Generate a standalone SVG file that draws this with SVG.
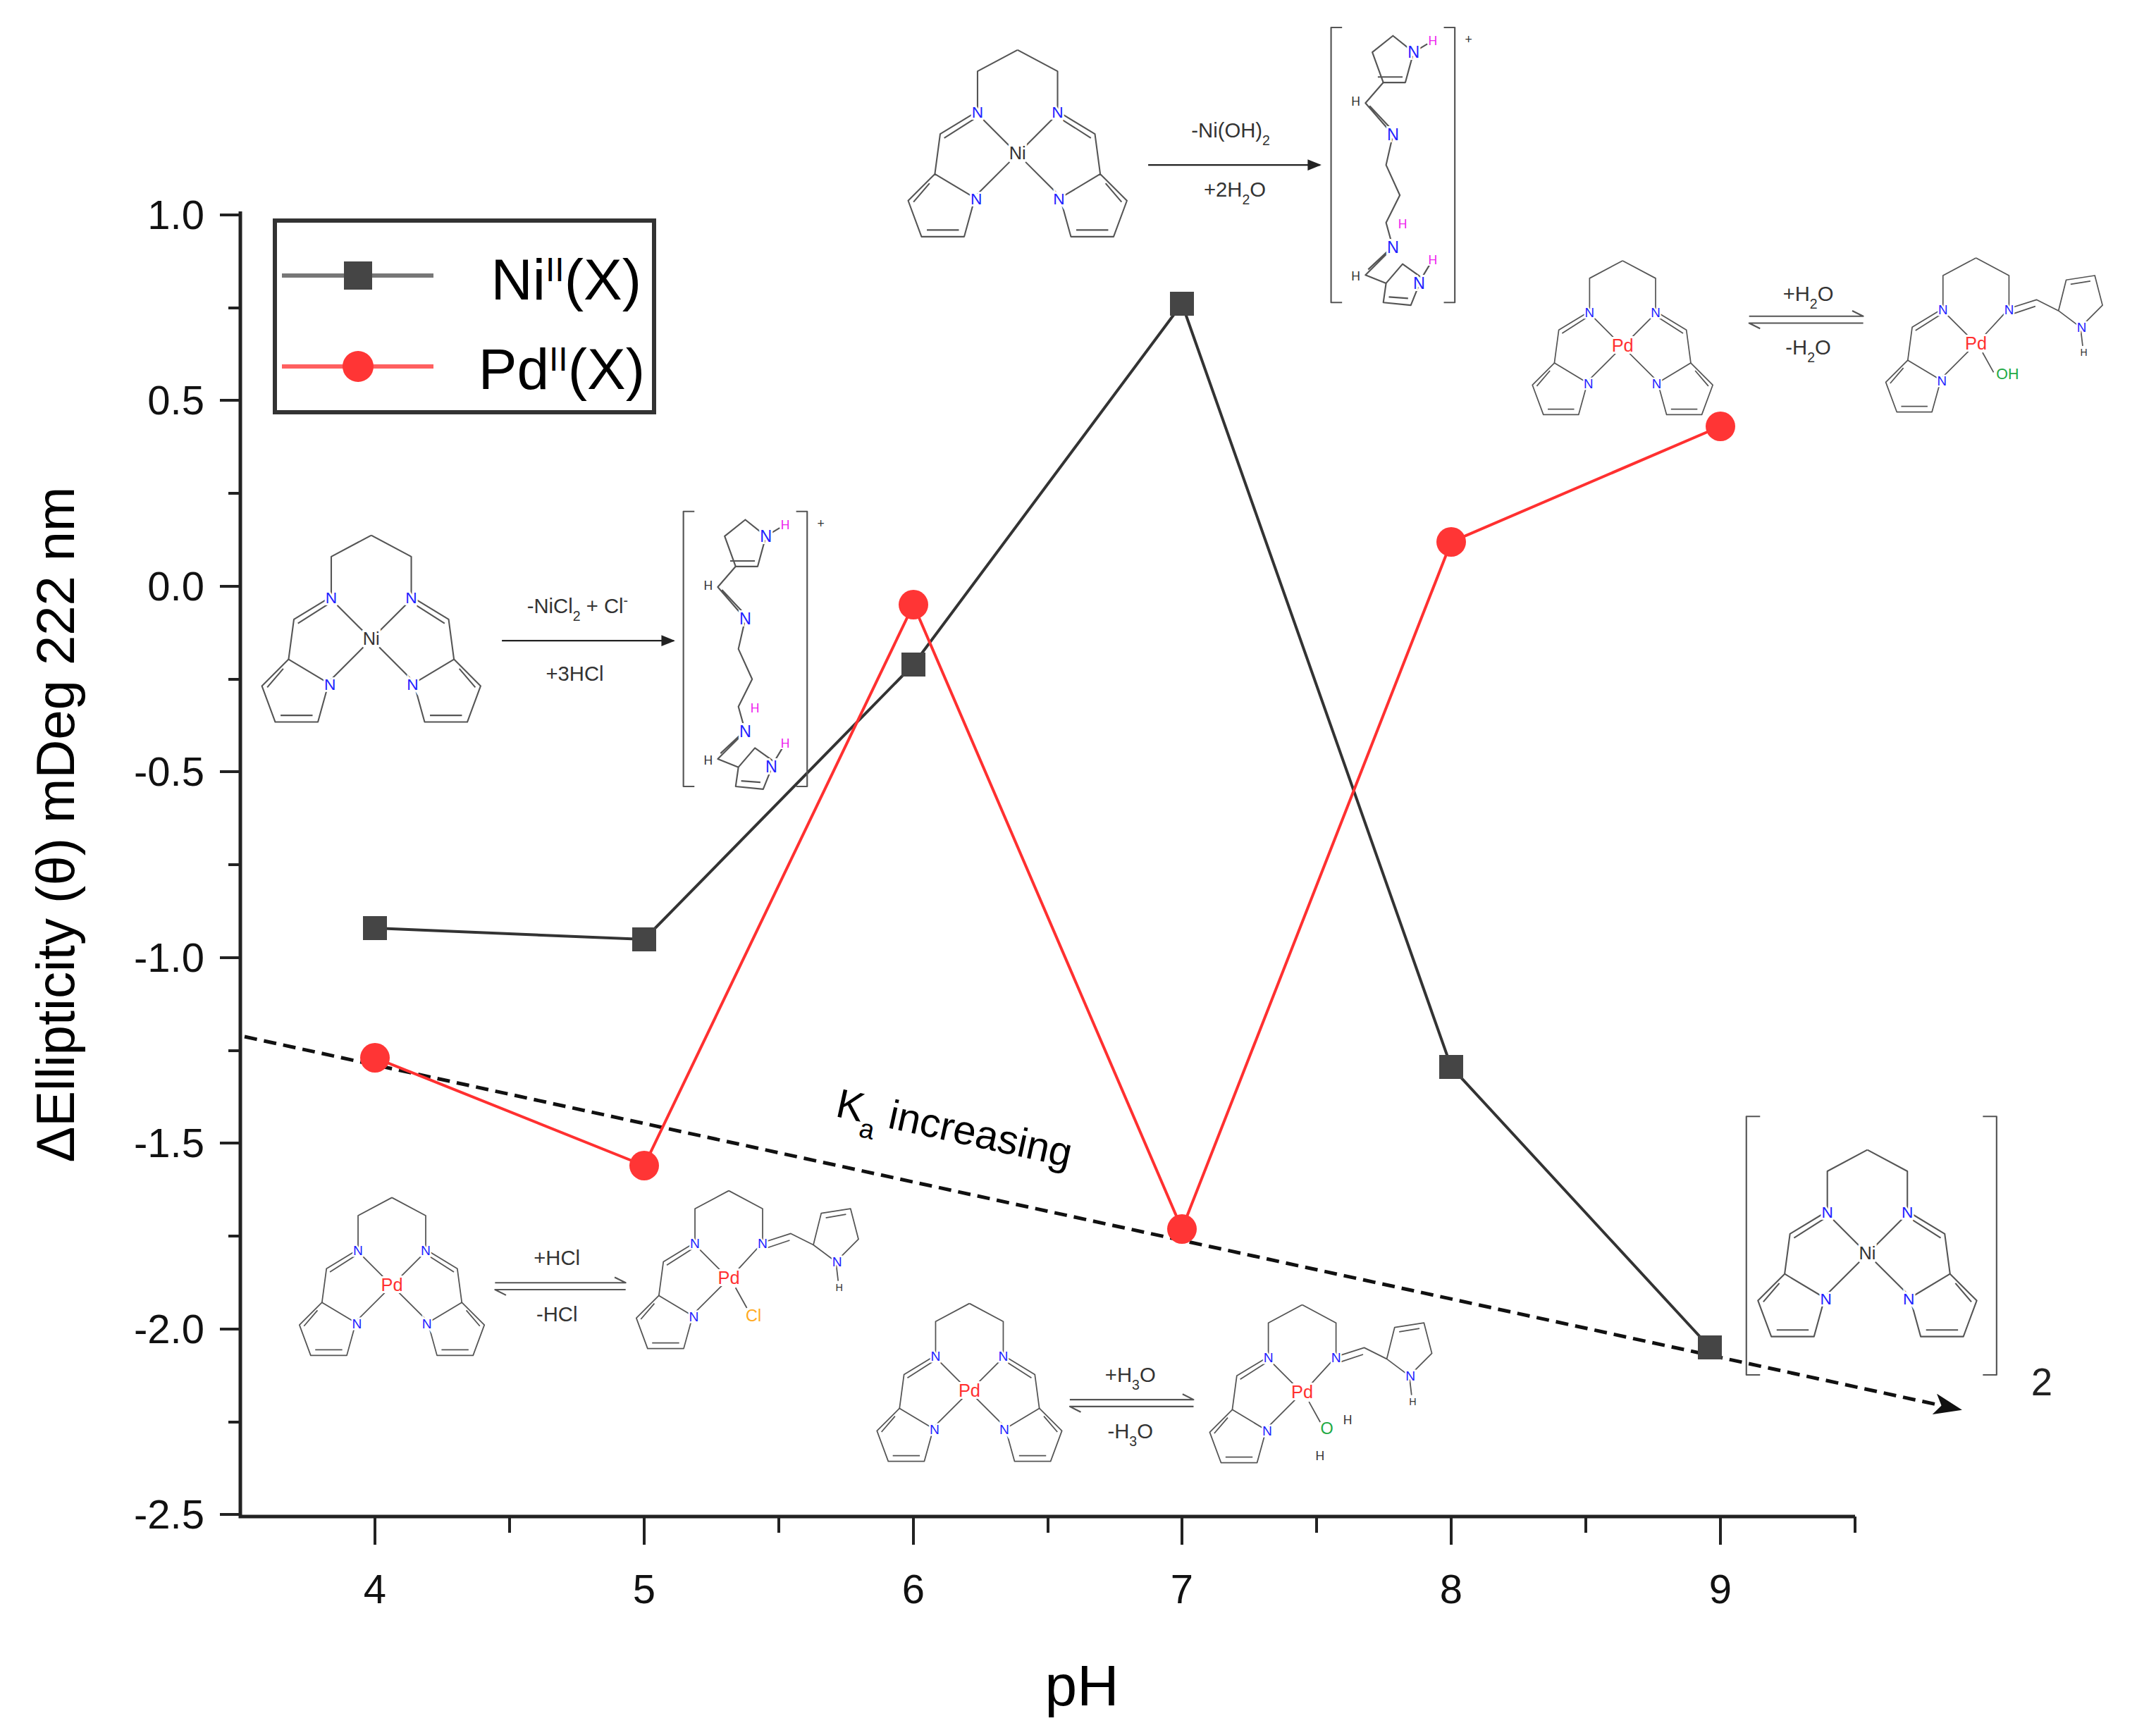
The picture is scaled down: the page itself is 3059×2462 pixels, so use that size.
<svg xmlns="http://www.w3.org/2000/svg" xmlns:xlink="http://www.w3.org/1999/xlink" width="3059" height="2462" viewBox="0 0 3059 2462">
<style>
.ax{stroke:#222;stroke-width:5;fill:none}
.tk{stroke:#222;stroke-width:4}
.tl{font-family:"Liberation Sans",Arial,sans-serif;font-size:58px;fill:#111}
.bd{stroke:#555;stroke-width:1.1;fill:none;stroke-linejoin:round}
.n{font-family:"Liberation Sans",Arial,sans-serif;font-size:12px;fill:#2222ff;text-anchor:middle;stroke:#fff;stroke-width:3;paint-order:stroke}
.c{font-family:"Liberation Sans",Arial,sans-serif;font-size:15px;fill:#333;text-anchor:middle}
.h{font-family:"Liberation Sans",Arial,sans-serif;font-size:9px;fill:#333;text-anchor:middle;stroke:#fff;stroke-width:2;paint-order:stroke}
.m{font-family:"Liberation Sans",Arial,sans-serif;font-size:13px;text-anchor:middle;stroke:#fff;stroke-width:3;paint-order:stroke}
</style>
<defs>
<g id="half">
<path class="bd" d="M-30,-32 L-30,-62 L0,-78"/>
<path class="bd" d="M-30,-32 L-58,-15 L-62,15 M-33,-26 L-55,-12"/>
<path class="bd" d="M-62,15 L-32,33 L-40,62 L-72,62 L-82,35 Z M-68,57 L-44,57 M-66,22 L-78,36"/>
<path class="bd" d="M-28,-28 L-6,-6 M-30,30 L-6,6"/>
</g>
<g id="mac">
<use xlink:href="#half"/><use xlink:href="#half" transform="scale(-1,1)"/>
<text class="n" x="-30" y="-27">N</text><text class="n" x="30" y="-27">N</text>
<text class="n" x="-31" y="38">N</text><text class="n" x="31" y="38">N</text>
</g>
<g id="open">
<use xlink:href="#half"/>
<path class="bd" d="M30,-32 L30,-62 L0,-78 M30,-32 L8,-8 M30,-32 L55,-40 L75,-30 M33,-27 L54,-34"/>
<path class="bd" d="M75,-30 L82,-58 L108,-62 L115,-35 L95,-15 Z M86,-54 L104,-57"/>
<path class="bd" d="M95,-15 L97,2 M6,8 L16,26"/>
<text class="n" x="-30" y="-27">N</text><text class="n" x="30" y="-27">N</text>
<text class="n" x="-31" y="38">N</text><text class="n" x="96" y="-11">N</text>
<text class="h" x="98" y="11">H</text>
</g>
<g id="chain">
<path class="bd" d="M8,0 L0,0 L0,200 L8,200 M82,0 L90,0 L90,200 L82,200"/>
<path class="bd" d="M38,40 L30,18 L45,6 L60,18 L54,40 Z M34,36 L52,36"/>
<path class="bd" d="M60,18 L70,12 M38,40 L25,55 L45,78 M28,57 L44,74 M45,78 L40,100 L50,122 L40,142 L45,160 L25,180 L40,186 M27,176 L44,160"/>
<path class="bd" d="M40,186 L38,200 L58,202 L66,182 L52,172 Z M42,196 L56,197 M66,182 L72,172"/>
<text class="n" x="60" y="22">N</text><text class="n" x="45" y="82">N</text>
<text class="n" x="45" y="164">N</text><text class="n" x="64" y="190">N</text>
<text class="h" x="18" y="57">H</text><text class="h" x="18" y="184">H</text>
<text class="h" x="74" y="13" style="fill:#ee22ee">H</text><text class="h" x="74" y="172" style="fill:#ee22ee">H</text>
<text class="h" x="52" y="146" style="fill:#ee22ee">H</text>
<text class="c" x="100" y="12" style="font-size:9px">+</text>
</g>
<marker id="ah" markerWidth="10" markerHeight="8" refX="9" refY="4" orient="auto" markerUnits="userSpaceOnUse"><path d="M0,0 L10,4 L0,8 Z" fill="#222"/></marker>
<marker id="ah2" markerWidth="40" markerHeight="30" refX="36" refY="15" orient="auto" markerUnits="userSpaceOnUse"><path d="M0,0 L40,15 L0,30 L10,15 Z" fill="#111"/></marker>
</defs>

<g id="axes">
<path class="ax" d="M341,300 L341,2152 L2632,2152"/>
<g class="tk">
<path d="M312,305H341M312,568H341M312,832H341M312,1095H341M312,1359H341M312,1622H341M312,1886H341M312,2149H341"/>
<path d="M324,437H341M324,700H341M324,964H341M324,1227H341M324,1491H341M324,1754H341M324,2018H341"/>
<path d="M532,2152V2192M914,2152V2192M1296,2152V2192M1677,2152V2192M2059,2152V2192M2441,2152V2192"/>
<path d="M723,2152V2175M1105,2152V2175M1487,2152V2175M1868,2152V2175M2250,2152V2175M2632,2152V2175"/>
</g>
<g class="tl" text-anchor="end">
<text x="290" y="325">1.0</text><text x="290" y="588">0.5</text><text x="290" y="852">0.0</text>
<text x="290" y="1115">-0.5</text><text x="290" y="1379">-1.0</text><text x="290" y="1642">-1.5</text>
<text x="290" y="1906">-2.0</text><text x="290" y="2169">-2.5</text>
</g>
<g class="tl" text-anchor="middle">
<text x="532" y="2275">4</text><text x="914" y="2275">5</text><text x="1296" y="2275">6</text>
<text x="1677" y="2275">7</text><text x="2059" y="2275">8</text><text x="2441" y="2275">9</text>
</g>
<text x="1535" y="2420" text-anchor="middle" style="font-family:'Liberation Sans',Arial,sans-serif;font-size:82px">pH</text>
<text transform="translate(105,1170) rotate(-90)" text-anchor="middle" style="font-family:'Liberation Sans',Arial,sans-serif;font-size:76px">ΔEllipticity (θ) mDeg 222 nm</text>
</g>

<g id="connectors">
<path d="M347,1471 L2780,2000" stroke="#111" stroke-width="5" stroke-dasharray="18,10" fill="none" marker-end="url(#ah2)"/>
<text transform="translate(1350,1620) rotate(12.3)" text-anchor="middle" style="font-family:'Liberation Sans',Arial,sans-serif;font-size:58px">K<tspan baseline-shift="sub" font-size="38">a</tspan> increasing</text>
</g>

<g id="ni-series">
<polyline points="532,1317 914,1333 1296,943 1677,431 2059,1514 2426,1912" fill="none" stroke="#333" stroke-width="4"/>
<g fill="#454545">
<rect x="515" y="1300" width="34" height="34"/><rect x="897" y="1316" width="34" height="34"/>
<rect x="1279" y="926" width="34" height="34"/><rect x="1660" y="414" width="34" height="34"/>
<rect x="2042" y="1497" width="34" height="34"/><rect x="2409" y="1895" width="34" height="34"/>
</g>
</g>
<g id="pd-series">
<polyline points="532,1501 914,1654 1296,858 1677,1744 2059,769 2441,605" fill="none" stroke="#ff3030" stroke-width="4"/>
<g fill="#ff3535">
<circle cx="532" cy="1501" r="21"/><circle cx="914" cy="1654" r="21"/><circle cx="1296" cy="858" r="21"/>
<circle cx="1677" cy="1744" r="21"/><circle cx="2059" cy="769" r="21"/><circle cx="2441" cy="605" r="21"/>
</g>
</g>

<g id="legend">
<rect x="390" y="313" width="538" height="272" fill="#fff" stroke="#333" stroke-width="6"/>
<path d="M400,391H615" stroke="#777" stroke-width="6"/><rect x="488" y="371" width="40" height="40" fill="#454545"/>
<path d="M400,520H615" stroke="#ff6060" stroke-width="6"/><circle cx="508" cy="520" r="22" fill="#ff3535"/>
<text x="910" y="425" text-anchor="end" style="font-family:'Liberation Sans',Arial,sans-serif;font-size:82px">Ni<tspan baseline-shift="super" font-size="48">II</tspan>(X)</text>
<text x="915" y="552" text-anchor="end" style="font-family:'Liberation Sans',Arial,sans-serif;font-size:82px">Pd<tspan baseline-shift="super" font-size="48">II</tspan>(X)</text>
</g>

<g id="structures" transform="scale(1.951)">
<g id="s-ni-top"><use xlink:href="#mac" transform="translate(740,112) scale(0.97)"/><text class="m" x="740" y="116" fill="#333">Ni</text></g>
<g id="s-ni-left"><use xlink:href="#mac" transform="translate(270,465) scale(0.97)"/><text class="m" x="270" y="469" fill="#333">Ni</text></g>
<g id="s-pd-tr"><use xlink:href="#mac" transform="translate(1180,252) scale(0.8)"/><text class="m" x="1180" y="256" fill="#ff3030">Pd</text></g>
<g id="s-pd-bl"><use xlink:href="#mac" transform="translate(285,935) scale(0.82)"/><text class="m" x="285" y="939" fill="#ff3030">Pd</text></g>
<g id="s-pd-bm"><use xlink:href="#mac" transform="translate(705,1012) scale(0.82)"/><text class="m" x="705" y="1016" fill="#ff3030">Pd</text></g>
<g id="s-ni-br"><use xlink:href="#mac" transform="translate(1358,912) scale(0.97)"/><text class="m" x="1358" y="916" fill="#333">Ni</text>
<path class="bd" d="M1280,812 L1270,812 L1270,1000 L1280,1000 M1442,812 L1452,812 L1452,1000 L1442,1000" stroke-width="1.4"/>
<text x="1477" y="1015" style="font-family:'Liberation Sans',Arial,sans-serif;font-size:28px;fill:#222">2</text></g>
<g id="s-pd-oh"><use xlink:href="#open" transform="translate(1437,250) scale(0.8)"/><text class="m" x="1437" y="254" fill="#ff3030">Pd</text>
<text class="m" x="1460" y="276" fill="#22aa44" style="font-size:11px">OH</text></g>
<g id="s-pd-cl"><use xlink:href="#open" transform="translate(530,930) scale(0.82)"/><text class="m" x="530" y="934" fill="#ff3030">Pd</text>
<text class="m" x="548" y="961" fill="#ffaa22" style="font-size:12px">Cl</text></g>
<g id="s-pd-oh2"><use xlink:href="#open" transform="translate(947,1013) scale(0.82)"/><text class="m" x="947" y="1017" fill="#ff3030">Pd</text>
<text class="m" x="965" y="1043" fill="#22aa44" style="font-size:12px">O</text><text class="h" x="980" y="1036">H</text><text class="h" x="960" y="1062">H</text></g>
<g id="s-chain-top"><use xlink:href="#chain" x="968" y="20"/></g>
<g id="s-chain-left"><use xlink:href="#chain" x="497" y="372"/></g>

<g id="rx-labels" class="c">
<text x="895" y="100">-Ni(OH)<tspan font-size="10" baseline-shift="sub">2</tspan></text>
<path d="M835,120 L960,120" stroke="#222" stroke-width="1.2" marker-end="url(#ah)"/>
<text x="898" y="143">+2H<tspan font-size="10" baseline-shift="sub">2</tspan>O</text>
<text x="420" y="446">-NiCl<tspan font-size="10" baseline-shift="sub">2</tspan> + Cl<tspan font-size="10" baseline-shift="super">-</tspan></text>
<path d="M365,466 L490,466" stroke="#222" stroke-width="1.2" marker-end="url(#ah)"/>
<text x="418" y="495">+3HCl</text>
<text x="1315" y="219">+H<tspan font-size="10" baseline-shift="sub">2</tspan>O</text>
<text x="1315" y="258">-H<tspan font-size="10" baseline-shift="sub">2</tspan>O</text>
<path class="bd" d="M1272,230 L1355,230 L1347,226 M1355,235 L1272,235 L1280,239" stroke="#333"/>
<text x="405" y="920">+HCl</text><text x="405" y="961">-HCl</text>
<path class="bd" d="M360,933 L455,933 L447,929 M455,938 L360,938 L368,942" stroke="#333"/>
<text x="822" y="1005">+H<tspan font-size="10" baseline-shift="sub">3</tspan>O</text>
<text x="822" y="1046">-H<tspan font-size="10" baseline-shift="sub">3</tspan>O</text>
<path class="bd" d="M778,1018 L868,1018 L860,1014 M868,1023 L778,1023 L786,1027" stroke="#333"/>
</g>
</g>
</svg>
